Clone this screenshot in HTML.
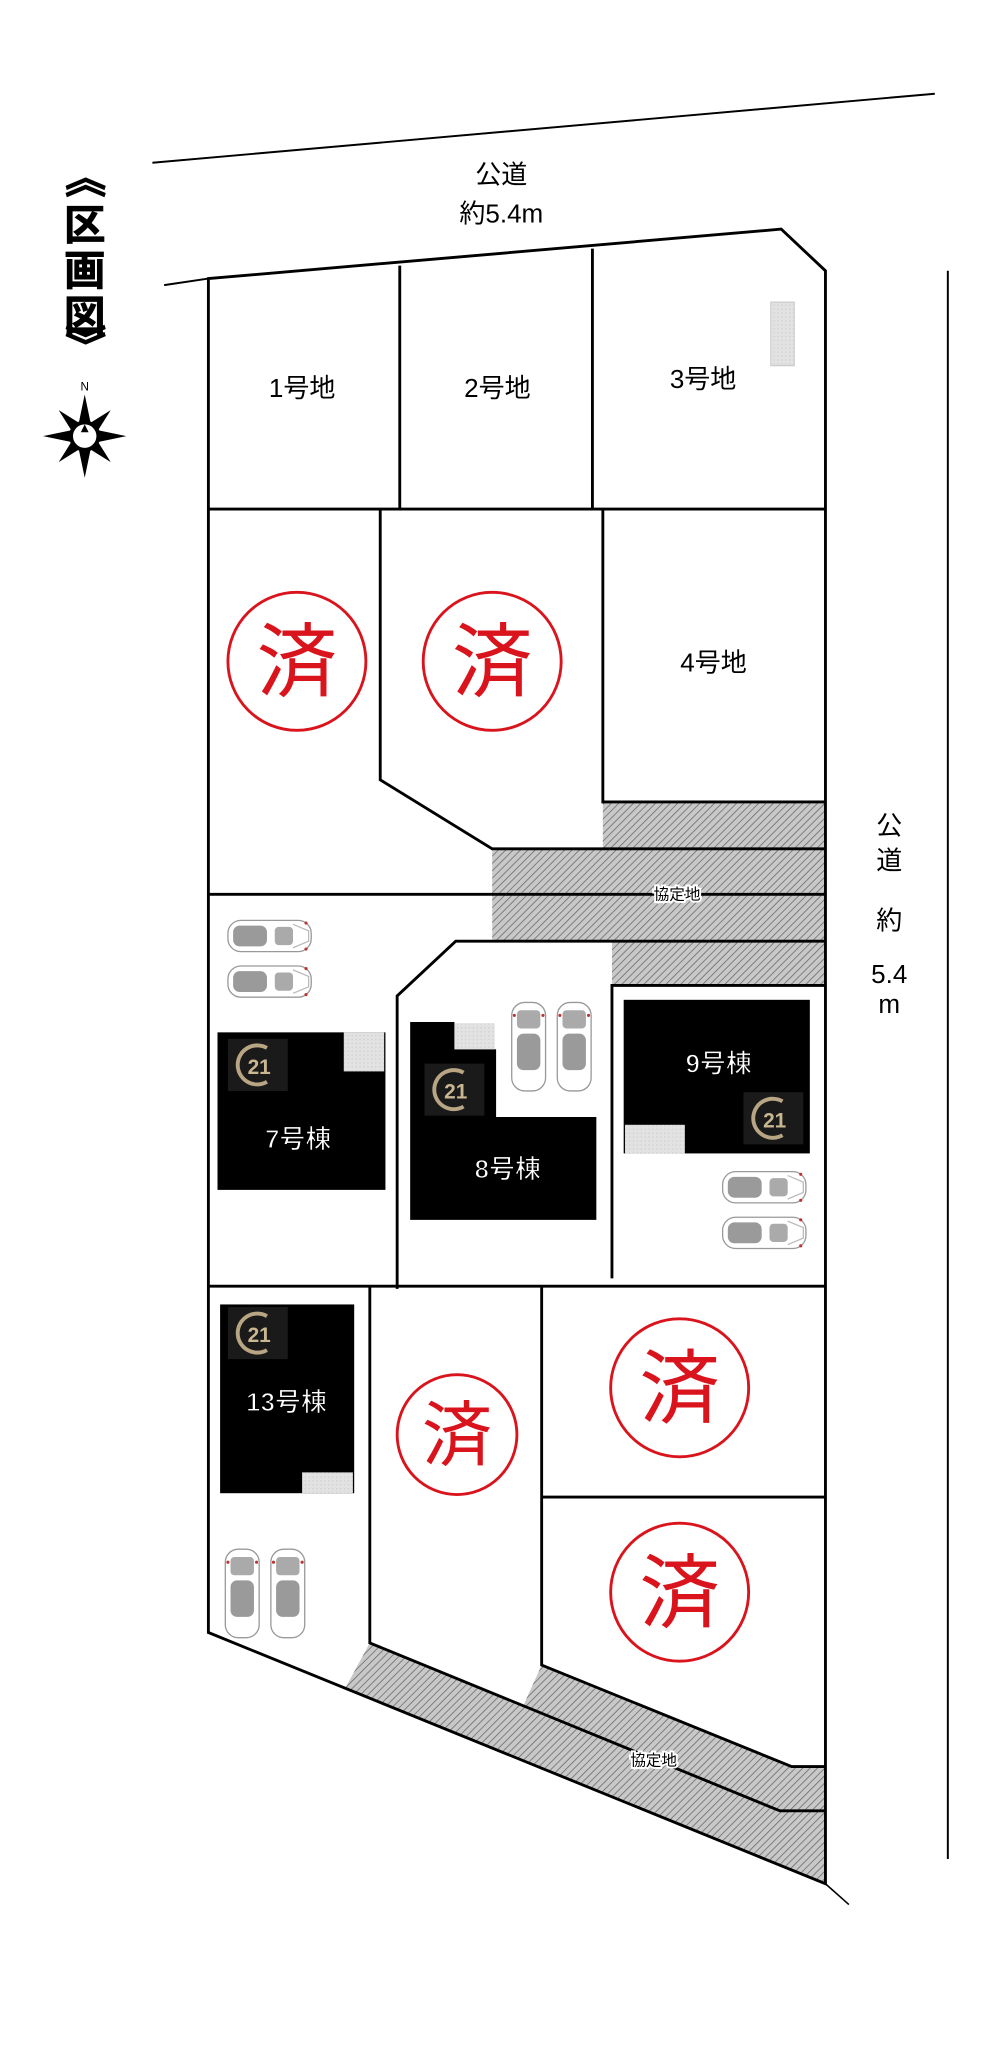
<!DOCTYPE html>
<html><head><meta charset="utf-8"><style>
html,body{margin:0;padding:0;background:#fff;}
svg{display:block;}
text{font-family:"Liberation Sans","Noto Sans CJK JP",sans-serif;}
</style></head><body>
<svg width="1000" height="2053" viewBox="0 0 768 1577" xmlns="http://www.w3.org/2000/svg">
<defs>
<pattern id="h" width="4" height="4" patternUnits="userSpaceOnUse" patternTransform="rotate(45)">
<rect width="4" height="4" fill="#c8c8c8"/><line x1="0" y1="0" x2="0" y2="4" stroke="#6a6a6a" stroke-width="1.2"/>
</pattern>
<pattern id="g" width="3" height="3" patternUnits="userSpaceOnUse">
<rect width="3" height="3" fill="#e2e2e2"/><rect width="1" height="1" fill="#cfcfcf"/>
</pattern>
<g id="carh">
<rect x="0" y="0" width="64" height="24" rx="10" fill="#fff" stroke="#999" stroke-width="1"/>
<rect x="4" y="4" width="26" height="16" rx="5" fill="#9a9a9a"/>
<rect x="36" y="5" width="14" height="14" rx="3" fill="#aaa"/>
<path d="M50 3 L62 8 L62 16 L50 21" fill="none" stroke="#bbb" stroke-width="1"/>
<circle cx="60" cy="2" r="1.2" fill="#b33"/><circle cx="60" cy="22" r="1.2" fill="#b33"/>
</g>
<g id="carv">
<rect x="0" y="0" width="26" height="68" rx="10" fill="#fff" stroke="#999" stroke-width="1"/>
<rect x="4" y="6" width="18" height="14" rx="3" fill="#aaa"/>
<rect x="4" y="24" width="18" height="28" rx="5" fill="#9a9a9a"/>
<circle cx="2" cy="10" r="1.2" fill="#b33"/><circle cx="24" cy="10" r="1.2" fill="#b33"/>
</g>
<g id="logo">
<rect x="0" y="0" width="46" height="40" fill="#1a1a1a"/>
<path d="M30 7 A15 15 0 1 0 30 33" fill="none" stroke="#b8a583" stroke-width="3"/>
<text x="24" y="27" font-size="16" font-weight="bold" fill="#c9b791" text-anchor="middle">21</text>
</g>
</defs>

<!-- roads -->
<line x1="117" y1="125" x2="718" y2="72" stroke="#000" stroke-width="1.5"/>
<line x1="728" y1="208" x2="728" y2="1428" stroke="#000" stroke-width="1.5"/>
<line x1="126" y1="219" x2="160" y2="214" stroke="#000" stroke-width="1.5"/>
<line x1="634" y1="1447" x2="652" y2="1463" stroke="#000" stroke-width="1.2"/>

<!-- hatched areas -->
<rect x="463" y="616" width="171" height="36" fill="url(#h)"/>
<rect x="378" y="652" width="256" height="71" fill="url(#h)"/>
<rect x="470" y="723" width="164" height="34" fill="url(#h)"/>
<polygon points="265,1297 284,1262 599,1391 634,1391 634,1447" fill="url(#h)"/>
<polygon points="402,1310 416,1279 608,1357 634,1357 634,1391 599,1391 284,1262" fill="url(#h)"/>

<g fill="none" stroke="#000" stroke-width="2.2" stroke-linejoin="miter">
<polygon points="160,214 600,176 634,208 634,1447 160,1254"/>
<line x1="160" y1="391" x2="634" y2="391"/>
<line x1="307" y1="204" x2="307" y2="391"/>
<line x1="455" y1="191" x2="455" y2="391"/>
<polyline points="292,391 292,599 378,652 634,652"/>
<polyline points="463,391 463,616 634,616"/>
<line x1="160" y1="687" x2="634" y2="687"/>
<polyline points="305,990 305,765 350,723 634,723"/>
<polyline points="470,982 470,757 634,757"/>
<line x1="160" y1="988" x2="634" y2="988"/>
<polyline points="284,988 284,1262 599,1391 634,1391"/>
<polyline points="416,988 416,1279 608,1357 634,1357"/>
<line x1="416" y1="1150" x2="634" y2="1150"/>
</g>

<rect x="592" y="232" width="18" height="49" fill="url(#g)" stroke="#bbb" stroke-width="0.6"/>

<g font-size="20" fill="#000" text-anchor="middle">
<text x="385" y="141">公道</text>
<text x="385" y="171">約5.4m</text>
<text x="232" y="305">1号地</text>
<text x="382" y="305">2号地</text>
<text x="540" y="298">3号地</text>
<text x="548" y="516">4号地</text>
<text x="683" y="641">公</text>
<text x="683" y="668">道</text>
<text x="683" y="714">約</text>
<text x="683" y="755">5.4</text>
<text x="683" y="778">m</text>
</g>
<g font-size="12" fill="#000" text-anchor="middle">
<text x="520" y="691" stroke="#fff" stroke-width="3" paint-order="stroke">協定地</text>
<text x="502" y="1356" stroke="#fff" stroke-width="3" paint-order="stroke">協定地</text>
</g>

<!-- title -->
<g font-size="32" font-weight="bold" fill="#000" text-anchor="middle" stroke="#000" stroke-width="0.6">
<text x="65" y="136" dominant-baseline="central" transform="rotate(90 65 136)">《</text>
<text x="65" y="184">区</text>
<text x="65" y="219">画</text>
<text x="65" y="254">図</text>
<text x="65" y="265" dominant-baseline="central" transform="rotate(90 65 265)">》</text>
</g>

<!-- compass -->
<text x="65" y="300" font-size="9" font-family="Liberation Serif" text-anchor="middle">N</text>
<g transform="translate(65,335)" fill="#000">
<polygon points="0,-32 5,-8 0,-12 -5,-8"/>
<polygon points="0,32 5,8 0,12 -5,8"/>
<polygon points="-32,0 -8,5 -12,0 -8,-5"/>
<polygon points="32,0 8,5 12,0 8,-5"/>
<polygon points="-20,-20 -4,-10 -10,-4"/>
<polygon points="20,-20 4,-10 10,-4"/>
<polygon points="-20,20 -4,10 -10,4"/>
<polygon points="20,20 4,10 10,4"/>
<circle r="12" fill="#000"/><circle r="9" fill="#fff"/>
<polygon points="0,-9 3,-3 -3,-3" fill="#000"/>
</g>

<g fill="none" stroke="#d9141c" stroke-width="2.2">
<circle cx="228" cy="508" r="53"/>
<circle cx="378" cy="508" r="53"/>
<circle cx="522" cy="1066" r="53"/>
<circle cx="522" cy="1223" r="53"/>
<circle cx="351" cy="1102" r="46"/>
</g>
<g fill="#d9141c" text-anchor="middle">
<text x="228" y="530" font-size="62">済</text>
<text x="378" y="530" font-size="62">済</text>
<text x="522" y="1088" font-size="62">済</text>
<text x="522" y="1245" font-size="62">済</text>
<text x="351" y="1121" font-size="54">済</text>
</g>

<rect x="167" y="793" width="129" height="121" fill="#000"/>
<rect x="264" y="793" width="31" height="30" fill="url(#g)"/>
<use href="#logo" x="175" y="798"/>
<polygon points="315,785 349,785 349,806 381,806 381,858 458,858 458,937 315,937" fill="#000"/>
<rect x="349" y="786" width="31" height="20" fill="url(#g)"/>
<use href="#logo" x="326" y="817"/>
<rect x="479" y="768" width="143" height="118" fill="#000"/>
<rect x="480" y="864" width="46" height="22" fill="url(#g)"/>
<use href="#logo" x="571" y="839"/>
<rect x="169" y="1002" width="103" height="145" fill="#000"/>
<rect x="232" y="1131" width="39" height="16" fill="url(#g)"/>
<use href="#logo" x="175" y="1004"/>
<g font-size="20" font-weight="bold" fill="#fff" stroke="#000" stroke-width="1" text-anchor="middle">
<text x="229" y="882">7号棟</text>
<text x="390" y="905">8号棟</text>
<text x="552" y="824">9号棟</text>
<text x="220" y="1084">13号棟</text>
</g>

<use href="#carh" x="175" y="707"/>
<use href="#carh" x="175" y="742"/>
<use href="#carv" x="393" y="770"/>
<use href="#carv" x="428" y="770"/>
<use href="#carh" x="555" y="900"/>
<use href="#carh" x="555" y="935"/>
<use href="#carv" x="173" y="1190"/>
<use href="#carv" x="208" y="1190"/>
</svg>
</body></html>
